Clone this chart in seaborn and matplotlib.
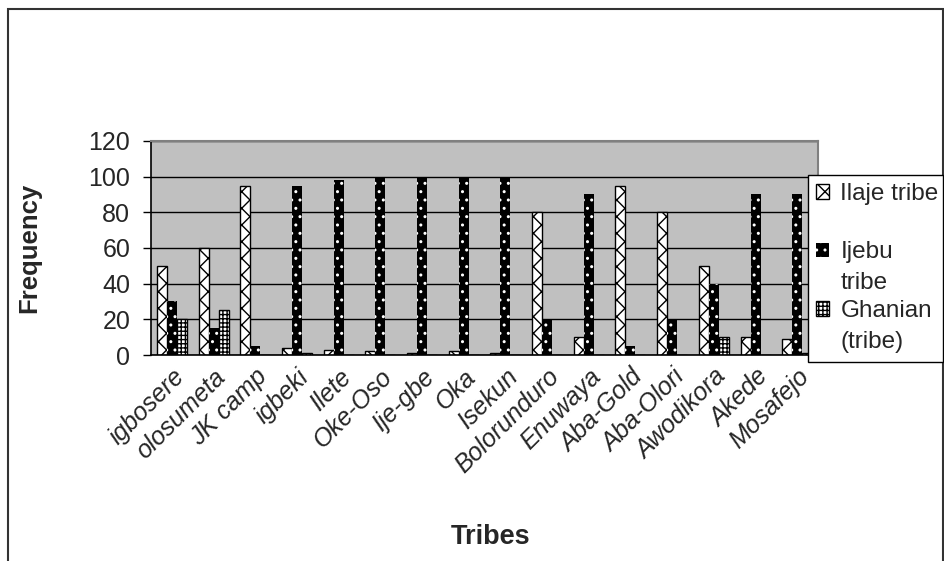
import matplotlib
matplotlib.use("Agg")
import matplotlib.pyplot as plt
import matplotlib.patches as mpatches
import pandas as pd
import seaborn as sns

sns.set_style("white")
plt.rcParams["font.family"] = ["Liberation Sans", "DejaVu Sans"]
plt.rcParams["hatch.linewidth"] = 1.0

# values
tribes = ["igbosere", "olosumeta", "JK camp", "igbeki", "Ilete", "Oke-Oso",
          "Ije-gbe", "Oka", "Isekun", "Bolorunduro", "Enuwaya", "Aba-Gold",
          "Aba-Olori", "Awodikora", "Akede", "Mosafejo"]
ilaje = [50, 60, 95, 4, 3, 2, 1, 2, 1, 80, 10, 95, 80, 50, 10, 9]
ijebu = [30, 15, 5, 95, 98, 99, 99, 99, 99, 20, 90, 5, 20, 40, 90, 90]
ghanian = [20, 25, 0, 1, 0, 0, 0, 0, 0, 0, 0, 0, 0, 10, 0, 1]
series = ["Ilaje tribe", "Ijebu tribe", "Ghanian (tribe)"]
legend_first = ["Ilaje tribe", "Ijebu", "Ghanian"]
legend_second = ["", "tribe", "(tribe)"]
yticks = [0, 20, 40, 60, 80, 100, 120]

df = pd.DataFrame({
    "Tribes": tribes * 3,
    "Frequency": ilaje + ijebu + ghanian,
    "Group": [s for s in series for _ in tribes],
})

faces = ["white", "black", "white"]
hatches = ["xx", "..", "++++"]
hatch_cols = ["black", "white", "black"]

W, H = 944, 561
fig = plt.figure(figsize=(W / 100, H / 100), dpi=100)
ax = fig.add_axes([0.160, 0.3672, 0.7066, 0.3815])

sns.barplot(data=df, x="Tribes", y="Frequency", hue="Group",
            palette=faces, saturation=1, width=0.72,
            edgecolor="black", linewidth=1, legend=False, ax=ax)

for cont, h, hc in zip(ax.containers, hatches, hatch_cols):
    for bar in cont:
        bar.set_hatch(h)
        bar.set_edgecolor(hc)
        if hc == "white":
            bar.set_linewidth(0)

ax.set_facecolor("#c0c0c0")
ax.set_ylim(0, 120)
ax.set_xlim(-0.5, len(tribes) - 0.5)
ax.set_yticks(yticks)
ax.grid(axis="y", color="black", linewidth=1)
ax.set_axisbelow(True)

for side in ["left", "bottom"]:
    ax.spines[side].set_color("black")
    ax.spines[side].set_linewidth(1.2)
for side in ["top", "right"]:
    ax.spines[side].set_color("#808080")
    ax.spines[side].set_linewidth(1.5)

ax.set_xticks(range(len(tribes)))
ax.set_xticklabels(tribes, rotation=45, ha="right", rotation_mode="anchor",
                   fontstyle="italic", fontsize=18)
ax.set_xticks([i - 0.5 for i in range(len(tribes) + 1)], minor=True)
ax.tick_params(axis="x", which="major", length=0, pad=7)
ax.tick_params(axis="x", which="minor", length=6, width=1, color="black", direction="out")
ax.tick_params(axis="y", length=6, width=1, color="black", direction="out",
               labelsize=18, pad=9, left=True)

ax.set_xlabel("")
ax.set_ylabel("Frequency", fontsize=18.5, fontweight="bold")
ax.yaxis.set_label_coords(-0.164, 0.5)
fig.text(0.520, 1 - 537 / H, "Tribes", ha="center", va="center",
         fontsize=19.5, fontweight="bold")

# legend: Excel style, handle next to the first line of each label
handles = [mpatches.Patch(facecolor=f, edgecolor="black", hatch=h, linewidth=1)
           for f, h in zip(faces, hatches)]
handles[1] = mpatches.Patch(facecolor="black", edgecolor="white", hatch="..", linewidth=0)
leg = fig.legend(handles=handles, labels=legend_first, loc="upper left",
                 bbox_to_anchor=(816 / W, 1 - 183 / H), fontsize=17.5,
                 frameon=False, handlelength=0.55, handleheight=0.55,
                 handletextpad=0.45, labelspacing=1.5, borderpad=0,
                 borderaxespad=0)
fig.add_artist(mpatches.Rectangle((808 / W, 1 - 362 / H), (943 - 808) / W,
                                  (362 - 175) / H, transform=fig.transFigure,
                                  facecolor="white", edgecolor="black",
                                  linewidth=1, zorder=4))

fig.canvas.draw()
renderer = fig.canvas.get_renderer()
for txt, extra in zip(leg.get_texts(), legend_second):
    if not extra:
        continue
    bb = txt.get_window_extent(renderer)
    fig.text(bb.x0 / W, ((bb.y0 + bb.y1) / 2 - 31) / H, extra,
             ha="left", va="center", fontsize=17.5, zorder=6)

fig.add_artist(mpatches.Rectangle((8 / W, -0.1), (943 - 8) / W, 1.084,
                                  transform=fig.transFigure, fill=False,
                                  edgecolor="#333333", linewidth=1.5))

fig.savefig("out.png", dpi=100)
